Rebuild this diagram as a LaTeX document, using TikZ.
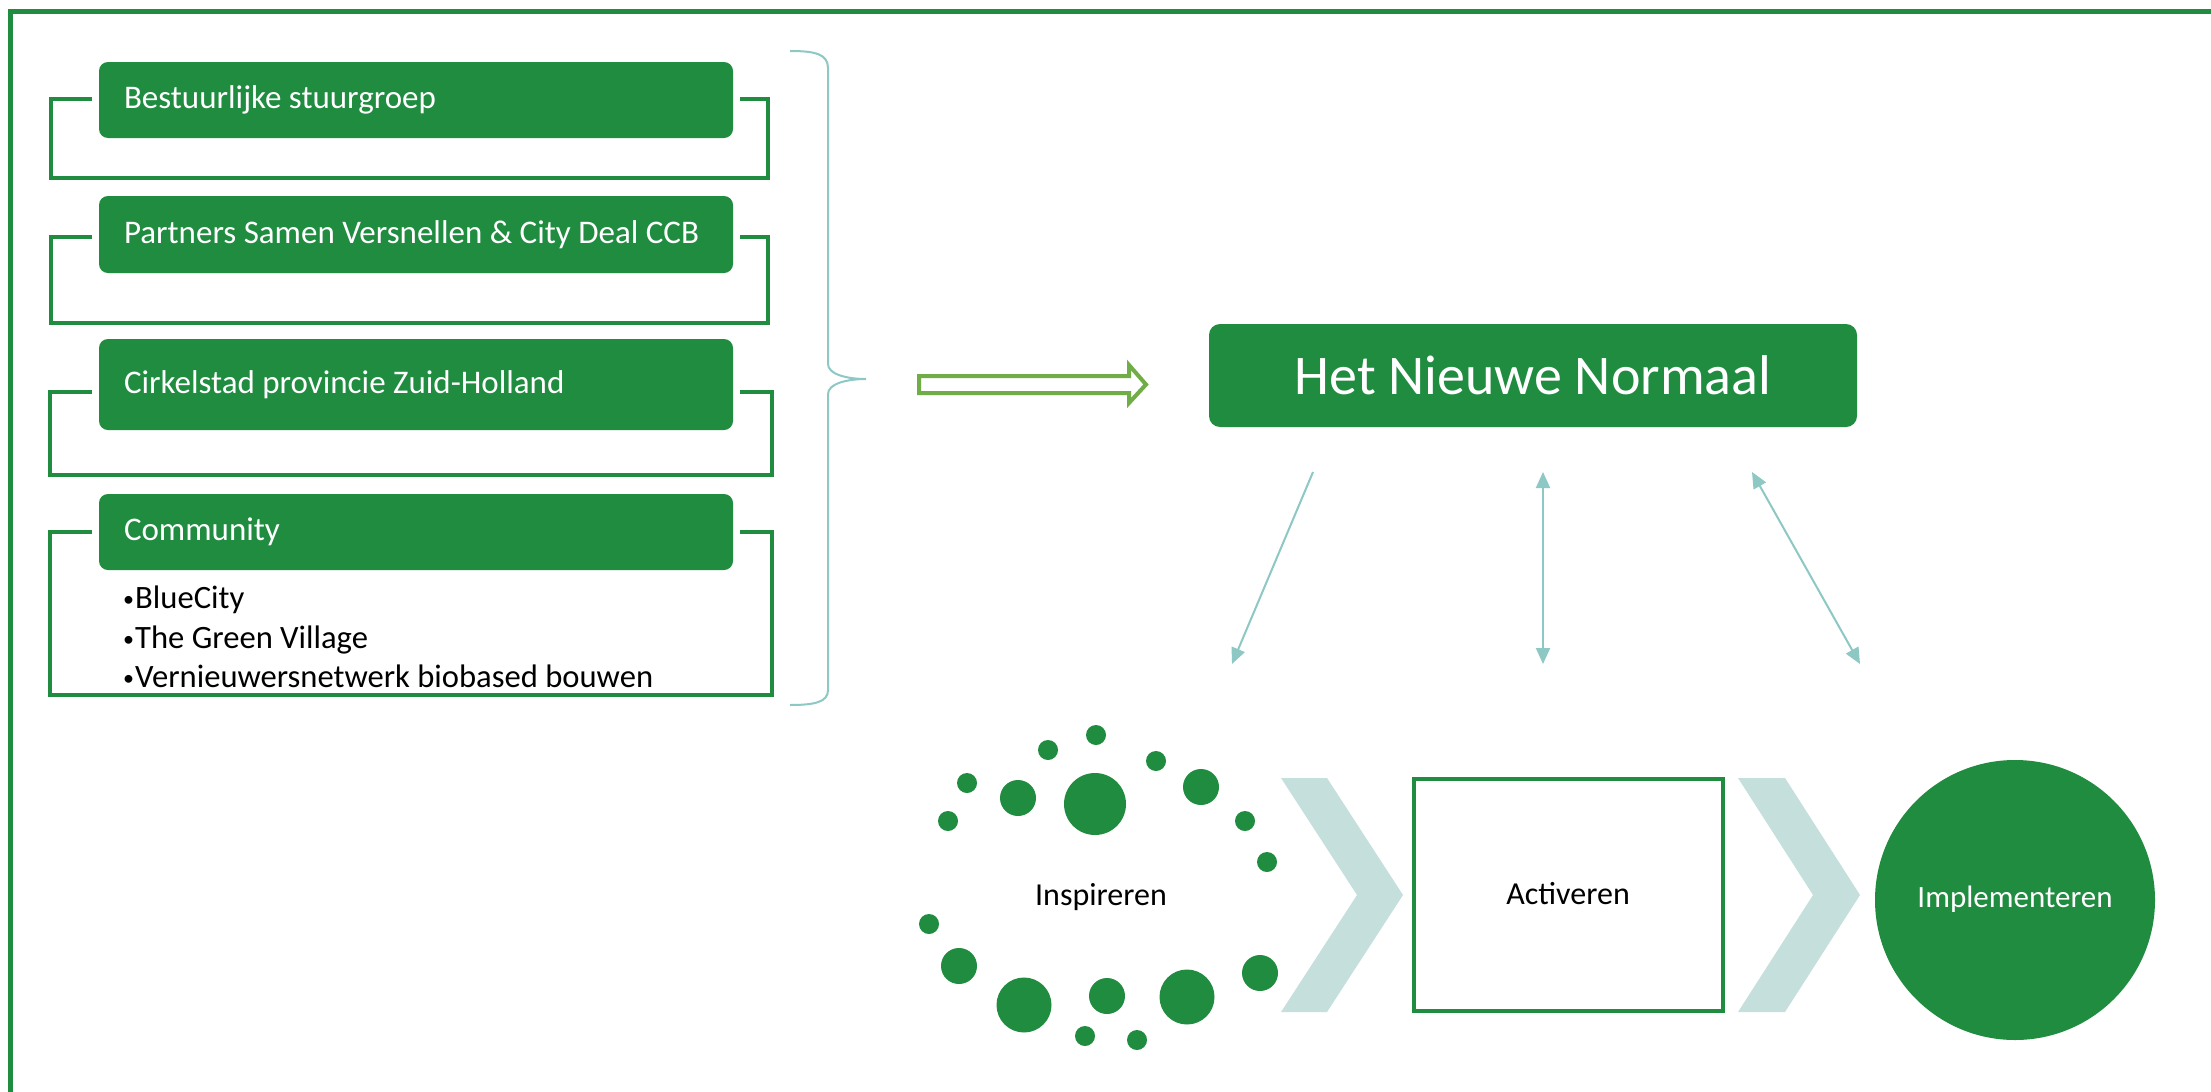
\documentclass[tikz,border=0pt]{standalone}
\usepackage{fontspec}
\setmainfont{Carlito}
\usetikzlibrary{arrows.meta}
\definecolor{mygreen}{RGB}{31,140,64}
\definecolor{myteal}{RGB}{141,200,196}
\definecolor{mychev}{RGB}{197,224,220}
\definecolor{mylime}{RGB}{112,173,71}
\newcommand{\mybul}{\makebox[12pt][l]{\raisebox{1.5pt}{\fontsize{22}{22}\selectfont •}}}
\begin{document}
\begin{tikzpicture}[x=1pt,y=-1pt,
  gbox/.style={fill=mygreen, rounded corners=9pt, text=white,
    font=\fontsize{33}{39}\selectfont, minimum width=634pt, text width=584pt,
    inner xsep=25pt, inner ysep=0pt, align=flush left},
  bracket/.style={draw=mygreen, line width=4.5pt},
  listtext/.style={font=\fontsize{32.6}{38}\selectfont, text=black, anchor=base west, inner sep=0pt},
  tarrow/.style={draw=myteal, line width=2pt},
  plain/.style={font=\fontsize{32}{38}\selectfont, inner sep=0pt, anchor=base}
]
\useasboundingbox (0,0) rectangle (2211,1092);
\fill[white] (0,0) rectangle (2211,1092);
% outer frame
\draw[mygreen, line width=5pt] (10,1092) -- (10,11.5) -- (2211,11.5);

% brackets
\draw[bracket] (92,99) -- (51,99) -- (51,178) -- (768,178) -- (768,99) -- (740,99);
\draw[bracket] (92,237) -- (51,237) -- (51,323) -- (768,323) -- (768,237) -- (740,237);
\draw[bracket] (92,392) -- (50,392) -- (50,475) -- (772,475) -- (772,392) -- (740,392);
\draw[bracket] (92,532) -- (50,532) -- (50,695) -- (772,695) -- (772,532) -- (740,532);

% boxes
\node[gbox, minimum height=76pt] (b1) at (416,100) {Bestuurlijke stuurgroep};
\node[gbox, minimum height=77pt] (b2) at (416,234.5) {Partners Samen Versnellen \& City Deal CCB};
\node[gbox, minimum height=91pt] (b3) at (416,384.5) {Cirkelstad provincie Zuid-Holland};
\node[gbox, minimum height=76pt] (b4) at (416,532) {Community};

% list
\node[listtext] (l1) at (123,608) {\mybul BlueCity};
\node[listtext] (l2) at (123,648) {\mybul The Green Village};
\node[listtext] (l3) at (123,687) {\mybul Vernieuwersnetwerk biobased bouwen};

% brace
\draw[myteal, line width=2pt] (790,51) .. controls (815,51) and (828,54) .. (828,68)
  -- (828,364) .. controls (828,374) and (846,379) .. (866,379)
  .. controls (846,379) and (828,384) .. (828,394)
  -- (828,690) .. controls (828,702) and (815,705) .. (790,705);

% hollow arrow
\coordinate (hs) at (919,384.5);
\coordinate (he) at (1146,384.5);
\draw[mylime, line width=4pt, fill=white, line join=miter]
  (919,376) -- (1129,376) -- (1129,365) -- (he) -- (1129,403) -- (1129,393) -- (919,393) -- cycle;

% main node
\node[fill=mygreen, rounded corners=11pt, minimum width=648pt, minimum height=103pt,
  text=white, font=\fontsize{56}{67}\selectfont, inner sep=0pt] (hnn) at (1533,375.5) {Het Nieuwe Normaal};

% teal arrows
\coordinate (a1s) at (1313,472); \coordinate (a1e) at (1232,664);
\coordinate (a2s) at (1543,472); \coordinate (a2e) at (1543,664);
\coordinate (a3s) at (1752,472); \coordinate (a3e) at (1860,664);
\draw[tarrow, -{Triangle[length=16pt,width=14pt]}, myteal] (a1s) -- (a1e);
\draw[tarrow, {Triangle[length=16pt,width=14pt]}-{Triangle[length=16pt,width=14pt]}, myteal] (a2s) -- (a2e);
\draw[tarrow, {Triangle[length=16pt,width=14pt]}-{Triangle[length=16pt,width=14pt]}, myteal] (a3s) -- (a3e);

% dots
\foreach \x/\y/\r in {1096/735/10, 1048/750/10, 1156/761/10, 967/783/10, 1018/798/18,
  1095/804/31, 1201/787/18, 948/821/10, 1245/821/10, 1267/862/10, 929/924/10,
  959/966/18, 1260/973/18, 1024/1005/27.5, 1107/996/18, 1187/997/27.5,
  1085/1036/10, 1137/1040/10}
  \fill[mygreen] (\x,\y) circle[radius=\r pt];
\node[plain] (insp) at (1101,905) {Inspireren};

% chevrons
\fill[mychev] (1281,778) -- (1327,778) -- (1403,895) -- (1327,1012) -- (1281,1012) -- (1357,895) -- cycle;
\fill[mychev] (1738,778) -- (1785,778) -- (1860,895) -- (1785,1012) -- (1738,1012) -- (1813,895) -- cycle;

% Activeren
\node[draw=mygreen, line width=4pt, minimum width=309pt, minimum height=232pt, inner sep=0pt] (act) at (1568.5,895) {};
\node[plain] (actt) at (1568,904) {Activeren};

% Implementeren
\node[circle, fill=mygreen, minimum size=280pt, inner sep=0pt] (imp) at (2015,900) {};
\node[plain, text=white, font=\fontsize{31}{37}\selectfont] (impt) at (2015,907) {Implementeren};
\end{tikzpicture}
\end{document}
